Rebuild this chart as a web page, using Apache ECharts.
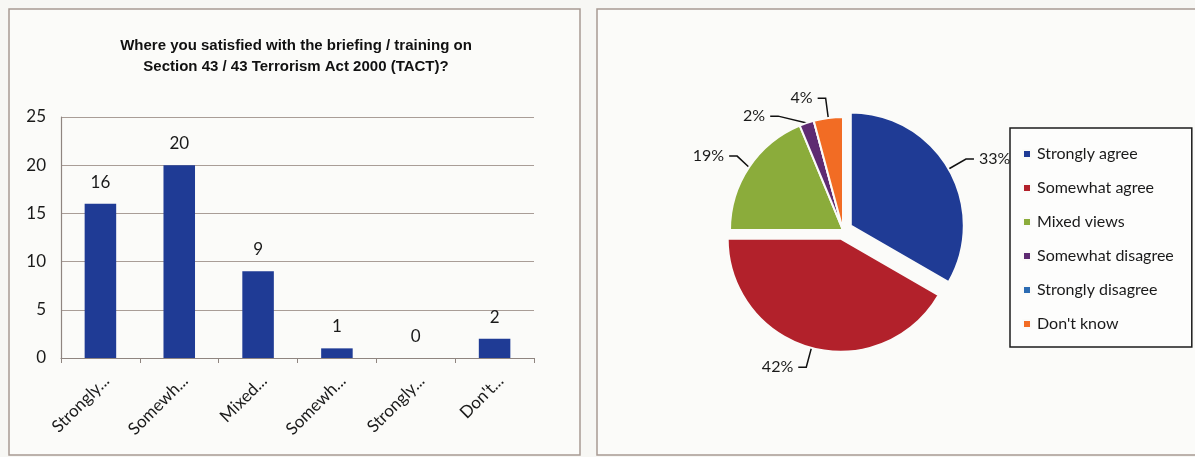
<!DOCTYPE html>
<html>
<head>
<meta charset="utf-8">
<script src="https://cdn.jsdelivr.net/npm/echarts@6/dist/echarts.min.js"></script>
<style>
  html, body { margin: 0; padding: 0; background: #f7f7f4; }
  #chart { width: 1195px; height: 457px; }
</style>
</head>
<body>
<div id="chart"></div>
<script>
// Survey responses: satisfaction with Section 43 / 43 TACT briefing
const titleLines = [
  'Where you satisfied with the briefing / training on',
  'Section 43 / 43 Terrorism Act 2000 (TACT)?'
];
const categories = ['Strongly agree', 'Somewhat agree', 'Mixed views', 'Somewhat disagree', 'Strongly disagree', "Don't know"];
const shortLabels = ['Strongly...', 'Somewh...', 'Mixed...', 'Somewh...', 'Strongly...', "Don't..."];
const counts = [16, 20, 9, 1, 0, 2];
const sliceColors = ['#1f3b95', '#b2212b', '#8bac3b', '#5e2b72', '#2c6cb3', '#f26c24'];
const explodedSlices = ['Strongly agree', 'Somewhat agree'];
const yTicks = { min: 0, max: 25, interval: 5 };

const FONT = 'Lato';
const chart = echarts.init(document.getElementById('chart'), null, { renderer: 'canvas' });

const total = counts.reduce((a, b) => a + b, 0);
const pieData = categories.map((name, i) => {
  const item = { name, value: counts[i], itemStyle: { color: sliceColors[i] } };
  if (explodedSlices.includes(name)) item.selected = true;
  if (counts[i] === 0) {
    item.label = { show: false };
    item.labelLine = { show: false };
  }
  return item;
});

chart.setOption({
  backgroundColor: '#f7f7f4',
  animation: false,
  title: {
    text: titleLines.join('\n'),
    left: 291,
    top: 30,
    textAlign: 'center',
    textStyle: {
      fontFamily: 'Liberation Sans',
      fontWeight: 'bold',
      fontSize: 15,
      lineHeight: 21,
      color: '#111'
    }
  },
  graphic: [
    { type: 'rect', shape: { x: 9, y: 9, width: 571, height: 446 }, style: { fill: '#fbfbf9', stroke: '#a89b93', lineWidth: 1.5 }, z: -10 },
    { type: 'rect', shape: { x: 597, y: 9, width: 620, height: 446 }, style: { fill: '#fbfbf9', stroke: '#a89b93', lineWidth: 1.5 }, z: -10 }
  ],
  grid: { left: 61, right: 661, top: 117, bottom: 99 },
  xAxis: {
    type: 'category',
    data: categories,
    axisLine: { lineStyle: { color: '#8f8580', width: 1.2 } },
    axisTick: { show: true, length: 5, lineStyle: { color: '#8f8580' } },
    axisLabel: {
      rotate: 45,
      margin: 14,
      verticalAlign: 'top',
      fontFamily: FONT,
      fontSize: 17,
      color: '#1a1a1a',
      formatter: (v, i) => shortLabels[i]
    }
  },
  yAxis: {
    type: 'value',
    min: yTicks.min,
    max: yTicks.max,
    interval: yTicks.interval,
    axisLine: { show: true, lineStyle: { color: '#8f8580', width: 1.2 } },
    axisTick: { show: false },
    axisLabel: { margin: 15, fontFamily: FONT, fontSize: 17, color: '#1a1a1a' },
    splitLine: { lineStyle: { color: '#a99d97', width: 1.2 } }
  },
  legend: {
    orient: 'vertical',
    left: 1010,
    top: 128,
    padding: [18, 18, 15, 12],
    backgroundColor: '#fdfdfc',
    borderColor: '#1c1c1c',
    borderWidth: 1.5,
    icon: 'rect',
    itemWidth: 8,
    itemHeight: 8,
    itemGap: 18,
    selectedMode: false,
    textStyle: { fontFamily: FONT, fontSize: 16, color: '#1a1a1a', padding: [0, 0, 0, 1] },
    data: categories
  },
  series: [
    {
      type: 'bar',
      data: counts,
      barWidth: '40%',
      itemStyle: { color: '#1f3b95' },
      label: {
        show: true,
        position: 'top',
        distance: 13,
        fontFamily: FONT,
        fontSize: 17,
        color: '#1a1a1a'
      }
    },
    {
      type: 'pie',
      center: [843, 230],
      radius: 113,
      startAngle: 90,
      clockwise: true,
      selectedMode: 'multiple',
      selectedOffset: 9,
      data: pieData,
      itemStyle: { borderColor: '#fbfbf9', borderWidth: 2 },
      label: {
        fontFamily: FONT,
        fontSize: 16,
        color: '#1a1a1a',
        formatter: p => Math.round(p.value / total * 100) + '%'
      },
      labelLine: { length: 20, length2: 8, lineStyle: { color: '#111', width: 1.5 } },
      emphasis: { disabled: true }
    }
  ]
});
</script>
</body>
</html>
